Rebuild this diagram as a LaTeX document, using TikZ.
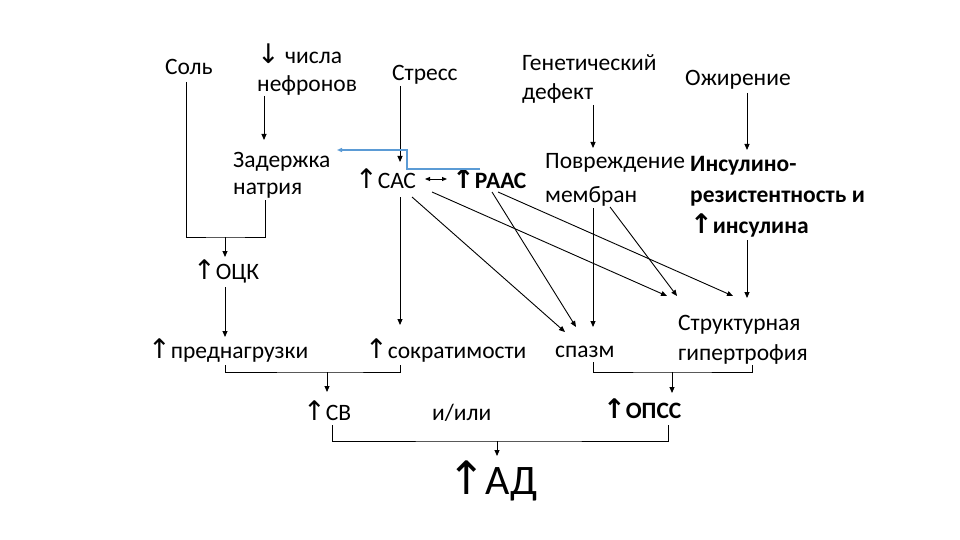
\documentclass[tikz,border=0pt]{standalone}
\usepackage{fontspec}
\setmainfont{Carlito}
\newfontfamily\arrf{DejaVu Sans}
\usetikzlibrary{arrows.meta}
\newcommand{\up}{{\arrf\fontsize{27}{29}\selectfont ↑}}
\newcommand{\down}{{\arrf\fontsize{27}{29}\selectfont ↓}}
\begin{document}
\begin{tikzpicture}[x=1pt,y=-1pt,
  txt/.style={anchor=base west,inner sep=0pt,font=\fontsize{23.5}{29}\selectfont,align=left},
  btxt/.style={txt,font=\fontsize{23.5}{31}\selectfont\bfseries},
  con/.style={line width=0.9pt,-{Triangle[length=6pt,width=5pt]}},
  ln/.style={line width=0.9pt},
  blue/.style={line width=1.4pt,draw={rgb,255:red,91;green,155;blue,213},-{Triangle[length=5pt,width=4pt]}}
]
\useasboundingbox[fill=white] (0,0) rectangle (960,540);

% texts (multi-line nodes: base = baseline of last line)
\node[txt] (sol) at (165,75) {Соль};
\node[txt,font=\fontsize{23.5}{28}\selectfont] (nef) at (257,92) {\down\ числа\\нефронов};
\node[txt] (stress) at (392,81) {Стресс};
\node[txt,font=\fontsize{23.5}{27}\selectfont] (zad) at (233,194) {Задержка\\натрия};
\node[txt] (sas) at (355,188) {\up САС};
\node[btxt] (raas) at (452,188) {\up РААС};
\node[txt] (gen) at (522,100) {Генетический\\дефект};
\node[txt] (ozh) at (685,86) {Ожирение};
\node[txt,font=\fontsize{23.5}{34}\selectfont] (povr) at (545,202) {Повреждение\\мембран};
\node[btxt] (ins) at (690,233) {Инсулино-\\резистентность и\\\up инсулина};
\node[txt] (ock) at (193,279) {\up ОЦК};
\node[txt] (pred) at (148,358) {\up преднагрузки};
\node[txt] (sokr) at (365,358) {\up сократимости};
\node[txt] (spazm) at (555,357) {спазм};
\node[txt,font=\fontsize{23.5}{30}\selectfont] (gip) at (678,360) {Структурная\\гипертрофия};
\node[txt] (sv) at (303,420) {\up СВ};
\node[txt] (ili) at (432,420) {и/или};
\node[btxt] (opss) at (603,418) {\up ОПСС};
\node[txt,font=\fontsize{42}{48}\selectfont] (ad) at (447,494) {{\arrf\fontsize{46}{48}\selectfont ↑}АД};

% connector end points
\coordinate (solB) at (186,82);
\coordinate (zadB) at (265,200);
\coordinate (j1) at (225,237);
\coordinate (ockT) at (225,257);
\coordinate (ockB) at (225,287);
\coordinate (predT) at (225,337);
\coordinate (nefB) at (264,96);
\coordinate (zadT) at (264,140);
\coordinate (stB) at (400,86);
\coordinate (sasT) at (400,162);
\coordinate (sasB) at (400,197);
\coordinate (sokrT) at (400,325);
\coordinate (predB) at (225,365);
\coordinate (sokrB) at (400,365);
\coordinate (j2) at (327,372);
\coordinate (svT) at (327,392);
\coordinate (svB) at (332,425);
\coordinate (opssB) at (668,425);
\coordinate (j3) at (497,441);
\coordinate (adT) at (497,456);
\coordinate (genB) at (593,105);
\coordinate (povrT) at (593,148);
\coordinate (ozhB) at (747,93);
\coordinate (insT) at (747,150);
\coordinate (povrB) at (593,208);
\coordinate (spazmT) at (593,327);
\coordinate (insB) at (747,240);
\coordinate (gipT) at (747,298);
\coordinate (sasR1) at (412,197);
\coordinate (sasR2) at (432,192);
\coordinate (raasL1) at (492,192);
\coordinate (raasL2) at (498,192);
\coordinate (povrR) at (610,207);
\coordinate (spazmT1) at (565,332);
\coordinate (spazmT2) at (576,327);
\coordinate (gipT1) at (667,296);
\coordinate (gipT2) at (677,296);
\coordinate (gipT3) at (733,296);
\coordinate (spazmB) at (593,362);
\coordinate (gipB) at (752,365);
\coordinate (j4) at (672,372);
\coordinate (opssT) at (672,393);
\coordinate (sasE) at (425,179);
\coordinate (raasW) at (447,179);
\coordinate (bl1) at (480,169);
\coordinate (bl2) at (407,169);
\coordinate (bl3) at (407,150);
\coordinate (zadE) at (337,150);

% connectors
\draw[ln] (solB) |- (j1) -| (zadB);
\draw[con] (j1) -- (ockT);
\draw[con] (ockB) -- (predT);
\draw[con] (nefB) -- (zadT);
\draw[con] (stB) -- (sasT);
\draw[con] (sasB) -- (sokrT);
\draw[ln] (predB) |- (j2) -| (sokrB);
\draw[con] (j2) -- (svT);
\draw[ln] (svB) |- (j3) -| (opssB);
\draw[con] (j3) -- (adT);
\draw[con] (genB) -- (povrT);
\draw[con] (ozhB) -- (insT);
\draw[con] (povrB) -- (spazmT);
\draw[con] (insB) -- (gipT);
\draw[con] (sasR1) -- (spazmT1);
\draw[con] (sasR2) -- (gipT1);
\draw[con] (raasL1) -- (spazmT2);
\draw[con] (raasL2) -- (gipT3);
\draw[con] (povrR) -- (gipT2);
\draw[ln] (spazmB) |- (j4) -| (gipB);
\draw[con] (j4) -- (opssT);
\draw[line width=0.9pt,{Triangle[length=5pt,width=4pt]}-{Triangle[length=5pt,width=4pt]}] (sasE) -- (raasW);
\draw[blue] (bl1) -- (bl2) -- (bl3) -- (zadE);
\end{tikzpicture}
\end{document}
